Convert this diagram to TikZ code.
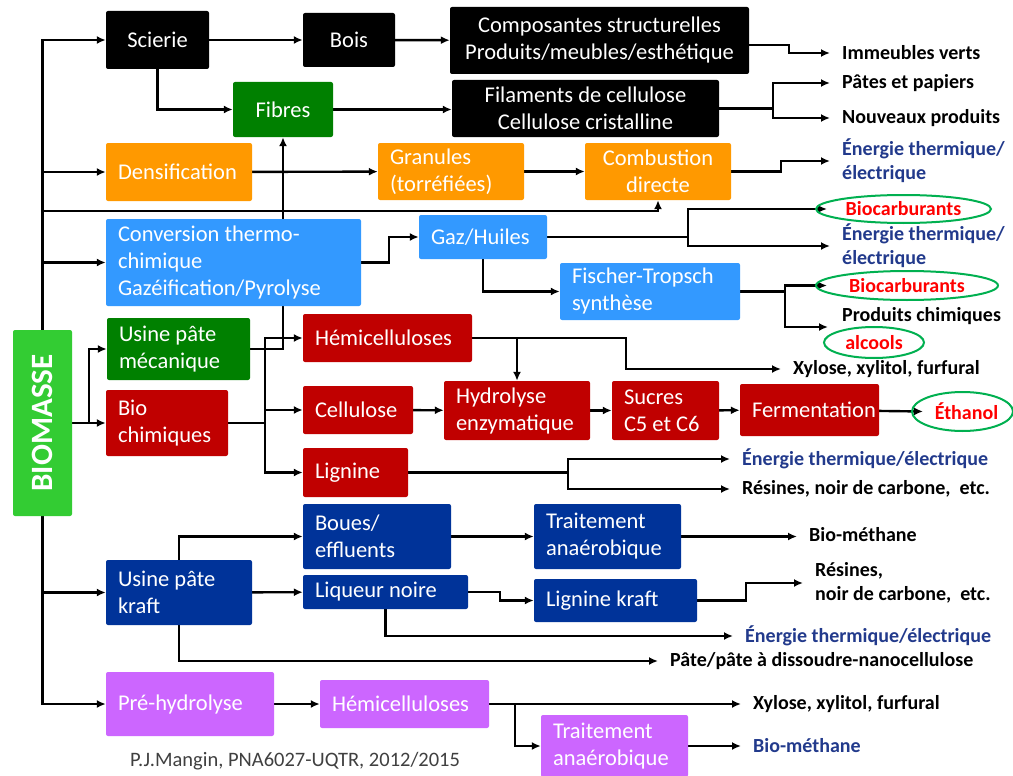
\documentclass[tikz,border=0pt]{standalone}
\usepackage{fontspec}
\setmainfont{Carlito}
\usetikzlibrary{arrows.meta,shapes.geometric,backgrounds}
\definecolor{leaf}{HTML}{008000}
\definecolor{grass}{HTML}{33CC33}
\definecolor{amber}{HTML}{FF9900}
\definecolor{sky}{HTML}{3399FF}
\definecolor{brick}{HTML}{C00000}
\definecolor{royal}{HTML}{003399}
\definecolor{lilac}{HTML}{CC66FF}
\definecolor{ink}{HTML}{223A8C}
\definecolor{ringgreen}{HTML}{00B050}
\definecolor{redtext}{HTML}{FF0000}
\definecolor{credit}{HTML}{404040}
\newcommand\boxfont{\fontsize{22.5}{27}\selectfont}
\newcommand\labfont{\bfseries\fontsize{20}{24}\selectfont}
\begin{document}
\begin{tikzpicture}[x=1pt, y=-1pt,
  box/.style={rectangle, rounded corners=2pt, text=white, inner xsep=12pt, inner ysep=2pt, align=flush left, font=\boxfont},
  blkbox/.style={box, fill=black, align=flush center},
  grnbox/.style={box, fill=leaf},
  orgbox/.style={box, fill=amber},
  skybox/.style={box, fill=sky},
  redbox/.style={box, fill=brick},
  bluebox/.style={box, fill=royal},
  vltbox/.style={box, fill=lilac},
  lab/.style={anchor=west, inner xsep=12pt, inner ysep=1pt, align=flush left, font=\labfont},
  nrj/.style={lab, text=ink},
  ring/.style={ellipse, draw=ringgreen, line width=2pt, inner sep=0pt, text=redtext, font=\labfont},
  arr/.style={-{Latex[length=9pt,width=8pt]}, line width=2.4pt}]
\useasboundingbox (0,0) rectangle (1013,776);

\node[box, fill=grass, rotate=90, align=center, minimum width=186pt, minimum height=59pt,
      font=\bfseries\fontsize{31}{36}\selectfont] (biomasse) at (42.5,423) {BIOMASSE};

\node[blkbox, text width=79pt, minimum height=58pt] (scierie) at (157.5,40) {Scierie};
\node[blkbox, text width=68pt, minimum height=54pt] (bois) at (349,40) {Bois};
\node[blkbox, text width=275pt, minimum height=67pt] (compo) at (599.5,40.5) {Composantes structurelles\\Produits/meubles/esthétique};
\node[grnbox, align=flush center, text width=76pt, minimum height=55pt] (fibres) at (283,109.5) {Fibres};
\node[blkbox, text width=243pt, minimum height=57pt] (filam) at (585.5,108.5) {Filaments de cellulose\\Cellulose cristalline};
\node[orgbox, text width=122pt, minimum height=58pt] (densif) at (179,172) {Densification};
\node[orgbox, text width=122pt, minimum height=57pt] (granules) at (451,171.5) {Granules\\(torréfiées)};
\node[orgbox, align=flush center, text width=122pt, minimum height=57pt] (combust) at (658,171.5) {Combustion\\directe};
\node[skybox, text width=231pt, minimum height=87pt] (conv) at (233.5,262.5) {Conversion thermo-\\chimique\\Gazéification/Pyrolyse};
\node[skybox, text width=104pt, minimum height=44pt] (gaz) at (483,237) {Gaz/Huiles};
\node[skybox, text width=156pt, minimum height=57pt] (ft) at (650,291.5) {Fischer-Tropsch\\synthèse};
\node[grnbox, text width=119pt, minimum height=62pt] (meca) at (178.5,349) {Usine pâte\\mécanique};
\node[redbox, text width=98pt, minimum height=66pt] (biochim) at (167,423) {Bio\\chimiques};
\node[redbox, text width=145pt, minimum height=48pt] (hemi) at (387.5,338) {Hémicelluloses};
\node[redbox, text width=86pt, minimum height=48pt] (cellu) at (358,410) {Cellulose};
\node[redbox, text width=81pt, minimum height=49pt] (lignine) at (355.5,472.5) {Lignine};
\node[redbox, text width=122pt, minimum height=59pt] (hydro) at (517,410.5) {Hydrolyse\\enzymatique};
\node[redbox, text width=83pt, minimum height=59pt] (sucres) at (665.5,410.5) {Sucres\\C5 et C6};
\node[redbox, text width=115pt, minimum height=52pt] (ferment) at (809.5,410) {Fermentation};
\node[bluebox, text width=122pt, minimum height=65pt] (kraft) at (179,592.5) {Usine pâte\\kraft};
\node[bluebox, text width=124pt, minimum height=65pt] (boues) at (377,536.5) {Boues/\\effluents};
\node[bluebox, text width=123pt, minimum height=65pt] (traitA) at (607.5,536.5) {Traitement\\anaérobique};
\node[bluebox, text width=141pt, minimum height=34pt] (liqueur) at (385.5,592) {Liqueur noire};
\node[bluebox, text width=139pt, minimum height=43pt] (lkraft) at (615.5,600.5) {Lignine kraft};
\node[vltbox, text width=144pt, minimum height=64pt] (prehyd) at (190,704) {Pré-hydrolyse};
\node[vltbox, text width=145pt, minimum height=48pt] (hemiv) at (404.5,704) {Hémicelluloses};
\node[vltbox, text width=123pt, minimum height=62pt] (traitB) at (614.5,746) {Traitement\\anaérobique};

\node[lab] (immeubles) at (830,53) {Immeubles verts};
\node[lab] (pates) at (830,83) {Pâtes et papiers};
\node[lab] (nouveaux) at (830,118) {Nouveaux produits};
\node[nrj] (energA) at (830,161) {Énergie thermique/\\électrique};
\node[ring, minimum width=175pt, minimum height=28pt] (bioA) at (903.5,209) {Biocarburants};
\node[nrj] (energB) at (830,246) {Énergie thermique/\\électrique};
\node[ring, minimum width=182pt, minimum height=29pt] (bioB) at (907,285.5) {Biocarburants};
\node[lab] (prodchim) at (830,316) {Produits chimiques};
\coordinate (pc) at (828,327);
\node[ring, minimum width=100pt, minimum height=31pt] (alcools) at (874,342.5) {alcools};
\node[lab] (xyloseA) at (781,369) {Xylose, xylitol, furfural};
\node[ring, minimum width=99pt, minimum height=39pt] (ethanol) at (962.5,411.5) {\hspace*{8pt}Éthanol};
\node[nrj] (energC) at (730,459) {Énergie thermique/électrique};
\node[lab] (resinesA) at (730,489) {Résines, noir de carbone,~ etc.};
\node[lab] (biomethA) at (797,535) {Bio-méthane};
\node[lab] (resinesB) at (803,583) {Résines,\\noir de carbone,~ etc.};
\node[nrj] (energD) at (733,636) {Énergie thermique/électrique};
\node[lab] (pate) at (658,661) {Pâte/pâte à dissoudre-nanocellulose};
\node[lab] (xyloseB) at (741,704) {Xylose, xylitol, furfural};
\node[nrj] (biomethB) at (741,746) {Bio-méthane};
\node[anchor=west, inner sep=0pt, text=credit, font=\fontsize{20.5}{24}\selectfont] (credit) at (130,761) {P.J.Mangin, PNA6027-UQTR, 2012/2015};

\begin{pgfonlayer}{background}
\fill[white] (0,0) rectangle (1013,776);
\draw[arr] (biomasse.east) |- (scierie);
\draw[arr] (biomasse.east) |- (densif);
\draw[arr] (biomasse.east) |- ([yshift=-11pt]combust.south) -- (combust.south);
\draw[arr] (biomasse.east) |- (conv);
\draw[arr] (biomasse.south) -- (biochim);
\draw[arr] (biomasse.south) -- ++(17,0) |- (meca);
\draw[arr] (biomasse.west) |- (kraft);
\draw[arr] (biomasse.west) |- (prehyd);
\draw[arr] (scierie) -- (bois);
\draw[arr] (bois) -- (compo);
\draw[arr] ([yshift=-4.5pt]compo.east) -- ++(40,0) |- (immeubles);
\draw[arr] (scierie) |- (fibres);
\draw[arr] (fibres.east) -- (fibres.east -| filam.west);
\draw[arr] (filam.east) -- ++(54,0) |- (pates);
\draw[arr] (filam.east) -- ++(54,0) |- (nouveaux);
\draw[arr] (densif) -- (granules);
\draw[arr] (granules) -- (combust);
\draw[arr] (combust.east) -- ++(50,0) |- (energA);
\draw[arr] (meca.east) -| (fibres.south);
\draw[arr] (conv.east) -- ++(28,0) |- (gaz);
\draw[arr] (gaz.east) -- ++(141,0) |- ([xshift=12pt]bioA.west);
\draw[arr] (gaz.east) -- ++(141,0) |- (energB);
\draw[arr] (gaz.south) |- (ft);
\draw[arr] (ft.east) -- ++(45,0) |- ([xshift=12pt]bioB.west);
\draw[arr] (ft.east) -- ++(45,0) |- (pc);
\draw[arr] (biochim.east) -- ++(37,0) |- (hemi);
\draw[arr] (biochim.east) -- ++(37,0) |- (cellu);
\draw[arr] (biochim.east) -- ++(37,0) |- (lignine);
\draw[arr] (hemi.east) -- ++(154,0) |- (xyloseA);
\draw[arr] (hemi.east -| hydro.north) -- (hydro.north);
\draw[arr] (cellu) -- (hydro);
\draw[arr] (hydro) -- (sucres);
\draw[arr] (sucres) -- (ferment);
\draw[arr] (ferment) -- ([xshift=12pt]ethanol.west);
\draw[arr] (lignine.east) -- ++(160,0) |- (energC);
\draw[arr] (lignine.east) -- ++(160,0) |- (resinesA);
\draw[arr] (kraft.north) |- (boues);
\draw[arr] (kraft) -- (liqueur);
\draw[arr] (kraft.south) |- (pate);
\draw[arr] (boues) -- (traitA);
\draw[arr] (traitA.east) -- (traitA.east -| biomethA.west);
\draw[arr] (liqueur.east) -- ++(32,0) |- (lkraft);
\draw[arr] (liqueur.south) |- (energD);
\draw[arr] (lkraft.east) -- ++(49,0) |- (resinesB);
\draw[arr] (prehyd) -- (hemiv);
\draw[arr] (hemiv) -- (xyloseB);
\draw[arr] (hemiv.east) -- ++(26,0) |- (traitB);
\draw[arr] (traitB) -- (biomethB);
\end{pgfonlayer}
\end{tikzpicture}
\end{document}
